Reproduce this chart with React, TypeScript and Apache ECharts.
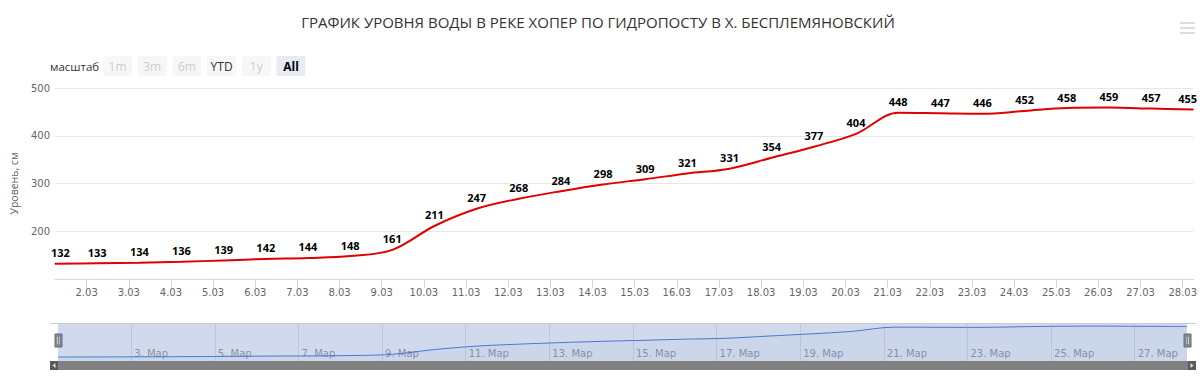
import React, { useEffect, useRef } from "react";
import * as echarts from "echarts";

const TITLE = "ГРАФИК УРОВНЯ ВОДЫ В РЕКЕ ХОПЕР ПО ГИДРОПОСТУ В Х. БЕСПЛЕМЯНОВСКИЙ";
const dates = [
  "1.03", "2.03", "3.03", "4.03", "5.03", "6.03", "7.03", "8.03", "9.03", "10.03",
  "11.03", "12.03", "13.03", "14.03", "15.03", "16.03", "17.03", "18.03", "19.03", "20.03",
  "21.03", "22.03", "23.03", "24.03", "25.03", "26.03", "27.03", "28.03",
];
const levels = [
  132, 133, 134, 136, 139, 142, 144, 148, 161, 211,
  247, 268, 284, 298, 309, 321, 331, 354, 377, 404,
  448, 447, 446, 452, 458, 459, 457, 455,
];
const tickLabels = dates.slice(1);
const navTickLabels = ["3. Мар", "5. Мар", "7. Мар", "9. Мар", "11. Мар", "13. Мар", "15. Мар", "17. Мар", "19. Мар", "21. Мар", "23. Мар", "25. Мар", "27. Мар"];
const rangeButtons = ["1m", "3m", "6m", "YTD", "1y", "All"];
const rangeEnabled = [false, false, false, true, false, true];
const Y_NAME = "Уровень, см";
const RANGE_LABEL = "масштаб";

// day of month as a number; readings taken at 06:00 (= +0.25 day)
const dayOf = (label: string) => parseInt(label, 10);
const READ_HOUR = 0.25;

export default function App() {
  const ref = useRef<HTMLDivElement>(null);
  useEffect(() => {
    if (!ref.current) return;
    const chart = echarts.init(ref.current, null, { renderer: "svg" });
    const data = dates.map((d, i) => [dayOf(d) + READ_HOUR, levels[i]]);
    const xMin = dayOf(dates[0]) + READ_HOUR;
    const xMax = dayOf(dates[dates.length - 1]) + READ_HOUR;
    const axisFont = "DejaVu Sans";
    const L = 50, R = 1197;
    const mainTicks = tickLabels.map(dayOf);
    const navTicks = navTickLabels.map(dayOf);

    const buttons: any[] = [];
    rangeButtons.forEach((b, i) => {
      const x = 103 + i * 34.7;
      const selected = b === "All";
      buttons.push({
        type: "rect",
        shape: { x, y: 56, width: 29, height: 20, r: 2 },
        style: { fill: selected ? "#e6ebf5" : "#f7f7f7" },
      });
      buttons.push({
        type: "text",
        x: x + 14.5,
        y: 66,
        style: {
          text: b,
          align: "center",
          verticalAlign: "middle",
          font: `${selected ? "bold " : ""}12px 'Open Sans'`,
          fill: rangeEnabled[i] ? (selected ? "#000" : "#333") : "#cccccc",
        },
      });
    });

    const handle = (cx: number) => ({
      type: "group",
      z: 20,
      children: [
        { type: "rect", shape: { x: cx - 3.5, y: 334, width: 7, height: 13 }, style: { fill: "#8a8a8a", stroke: "#666", lineWidth: 1 } },
        { type: "line", shape: { x1: cx - 1, y1: 337, x2: cx - 1, y2: 344 }, style: { stroke: "#ccc", lineWidth: 1 } },
        { type: "line", shape: { x1: cx + 1, y1: 337, x2: cx + 1, y2: 344 }, style: { stroke: "#ccc", lineWidth: 1 } },
      ],
    });

    chart.setOption({
      animation: false,
      backgroundColor: "#fff",
      grid: [
        { left: L, right: 1200 - R, top: 88, bottom: 382 - 279 },
        { left: 58, right: 1200 - 1187, top: 323, height: 38 },
      ],
      xAxis: [
        {
          type: "value",
          gridIndex: 0,
          min: xMin,
          max: xMax,
          axisLine: { show: true, lineStyle: { color: "#ccd6eb", width: 1 } },
          axisTick: {
            show: true,
            length: 9,
            lineStyle: { color: "#ccd6eb" },
            customValues: mainTicks,
          },
          axisLabel: {
            customValues: mainTicks,
            formatter: (v: number) => tickLabels[mainTicks.indexOf(Math.round(v))] || "",
            color: "#666",
            fontSize: 10,
            fontFamily: axisFont,
            margin: 8,
          },
          splitLine: { show: false },
        },
        {
          type: "value",
          gridIndex: 1,
          min: xMin,
          max: xMax,
          axisLine: { show: false },
          axisTick: {
            show: true,
            inside: true,
            length: 38,
            lineStyle: { color: "#e6e6e6" },
            customValues: navTicks,
          },
          axisLabel: {
            inside: true,
            customValues: navTicks,
            formatter: (v: number) => navTickLabels[navTicks.indexOf(Math.round(v))] || "",
            align: "left",
            padding: [0, 0, 0, 3],
            color: "#999",
            fontSize: 10,
            fontFamily: axisFont,
            margin: 3,
          },
          splitLine: { show: false },
        },
      ],
      yAxis: [
        {
          type: "value",
          gridIndex: 0,
          min: 100,
          max: 500,
          interval: 100,
          name: Y_NAME,
          nameLocation: "middle",
          nameGap: 36,
          nameTextStyle: { color: "#666", fontSize: 10.5, fontFamily: "Open Sans" },
          axisLine: { show: false },
          axisTick: { show: false },
          axisLabel: { showMinLabel: false, color: "#666", fontSize: 10, fontFamily: axisFont, margin: 5 },
          splitLine: { lineStyle: { color: "#e6e6e6" } },
        },
        {
          type: "value",
          gridIndex: 1,
          min: 90,
          max: 492,
          show: false,
          splitLine: { show: false },
        },
      ],
      graphic: [
        {
          type: "text",
          x: 598,
          y: 22,
          style: { text: TITLE, align: "center", verticalAlign: "middle", font: "15px 'Open Sans'", fill: "#333" },
        },
        { type: "rect", shape: { x: 1180, y: 22, width: 15, height: 2 }, style: { fill: "#dddddd" } },
        { type: "rect", shape: { x: 1180, y: 27, width: 15, height: 2 }, style: { fill: "#dddddd" } },
        { type: "rect", shape: { x: 1180, y: 32, width: 15, height: 2 }, style: { fill: "#dddddd" } },
        {
          type: "text",
          x: 50,
          y: 66,
          style: { text: RANGE_LABEL, align: "left", verticalAlign: "middle", font: "11.5px 'Open Sans'", fill: "#333" },
        },
        ...buttons,
        { type: "rect", z: 1, shape: { x: 58, y: 323, width: 1129, height: 38 }, style: { fill: "rgba(102,133,194,0.3)" } },
        { type: "line", z: 5, shape: { x1: 50, y1: 323.5, x2: 1196, y2: 323.5 }, style: { stroke: "#cccccc", lineWidth: 1 } },
        { type: "rect", z: 5, shape: { x: 58, y: 361, width: 1130, height: 9 }, style: { fill: "#808080" } },
        { type: "rect", z: 5, shape: { x: 50, y: 361, width: 8, height: 9 }, style: { fill: "#5a5a5a" } },
        { type: "rect", z: 5, shape: { x: 1188, y: 361, width: 8, height: 9 }, style: { fill: "#5a5a5a" } },
        { type: "polygon", z: 6, shape: { points: [[55.5, 363], [55.5, 368], [52.5, 365.5]] }, style: { fill: "#ddd" } },
        { type: "polygon", z: 6, shape: { points: [[1190.5, 363], [1190.5, 368], [1193.5, 365.5]] }, style: { fill: "#ddd" } },
        handle(58.5),
        handle(1187.5),
      ],
      series: [
        {
          type: "line",
          xAxisIndex: 0,
          yAxisIndex: 0,
          data,
          smooth: 0.35,
          symbol: "circle",
          symbolSize: 1,
          itemStyle: { color: "#e00000" },
          lineStyle: { color: "#e00000", width: 2 },
          label: {
            show: true,
            position: "top",
            distance: 5,
            color: "#000",
            fontSize: 11,
            fontWeight: "bold",
            fontFamily: "Open Sans",
            textBorderColor: "#fff",
            textBorderWidth: 2,
          },
          labelLayout: (p: any) => {
            const r = p.labelRect;
            let dx = 0;
            if (r.x < L) dx = L - r.x;
            else if (r.x + r.width > R + 1) dx = R + 1 - (r.x + r.width);
            return { dx };
          },
          z: 3,
        },
        {
          type: "line",
          xAxisIndex: 1,
          yAxisIndex: 1,
          data,
          smooth: 0.35,
          symbol: "none",
          lineStyle: { color: "#4a78cf", width: 1 },
          areaStyle: { color: "rgba(69,114,167,0.05)" },
          silent: true,
          z: 3,
        },
      ],
    });
    return () => chart.dispose();
  }, []);
  return <div ref={ref} style={{ position: "absolute", left: 0, top: 0, width: 1200, height: 382 }} />;
}
